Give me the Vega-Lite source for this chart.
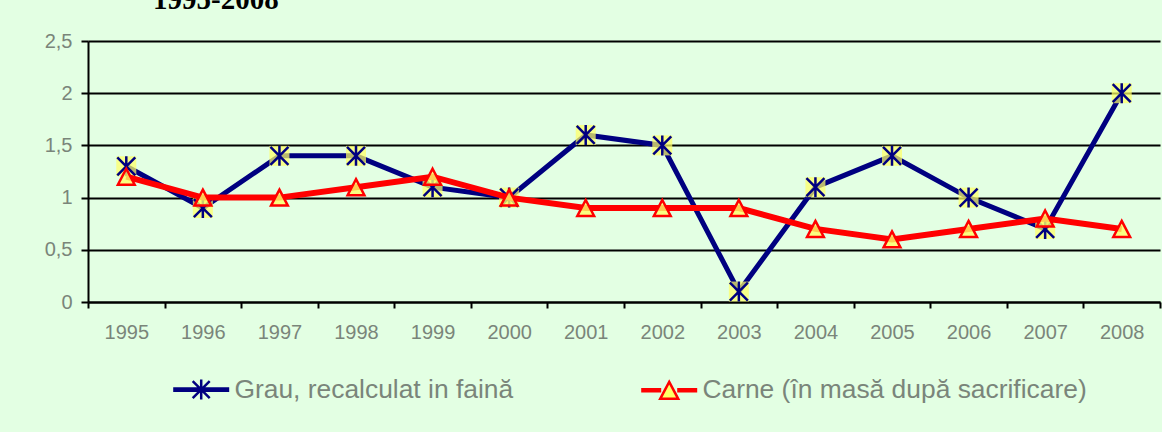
{
  "$schema": "https://vega.github.io/schema/vega-lite/v6.json",
  "autosize": {"type": "none"},
  "width": 1072,
  "height": 261,
  "padding": {"left": 88, "top": 41, "right": 2, "bottom": 130},
  "background": "#E3FFE3",
  "title": {
    "text": "1995-2008",
    "anchor": "start",
    "frame": "group",
    "dx": 65,
    "dy": 7,
    "offset": 0,
    "baseline": "alphabetic",
    "font": "Liberation Serif",
    "fontSize": 29,
    "fontWeight": "bold",
    "color": "#000000"
  },
  "data": {
    "values": [
      {"year": "1995", "series": "Grau, recalculat in faină", "value": 1.3},
      {"year": "1996", "series": "Grau, recalculat in faină", "value": 0.9},
      {"year": "1997", "series": "Grau, recalculat in faină", "value": 1.4},
      {"year": "1998", "series": "Grau, recalculat in faină", "value": 1.4},
      {"year": "1999", "series": "Grau, recalculat in faină", "value": 1.1},
      {"year": "2000", "series": "Grau, recalculat in faină", "value": 1.0},
      {"year": "2001", "series": "Grau, recalculat in faină", "value": 1.6},
      {"year": "2002", "series": "Grau, recalculat in faină", "value": 1.5},
      {"year": "2003", "series": "Grau, recalculat in faină", "value": 0.1},
      {"year": "2004", "series": "Grau, recalculat in faină", "value": 1.1},
      {"year": "2005", "series": "Grau, recalculat in faină", "value": 1.4},
      {"year": "2006", "series": "Grau, recalculat in faină", "value": 1.0},
      {"year": "2007", "series": "Grau, recalculat in faină", "value": 0.7},
      {"year": "2008", "series": "Grau, recalculat in faină", "value": 2.0},
      {"year": "1995", "series": "Carne (în masă după sacrificare)", "value": 1.2},
      {"year": "1996", "series": "Carne (în masă după sacrificare)", "value": 1.0},
      {"year": "1997", "series": "Carne (în masă după sacrificare)", "value": 1.0},
      {"year": "1998", "series": "Carne (în masă după sacrificare)", "value": 1.1},
      {"year": "1999", "series": "Carne (în masă după sacrificare)", "value": 1.2},
      {"year": "2000", "series": "Carne (în masă după sacrificare)", "value": 1.0},
      {"year": "2001", "series": "Carne (în masă după sacrificare)", "value": 0.9},
      {"year": "2002", "series": "Carne (în masă după sacrificare)", "value": 0.9},
      {"year": "2003", "series": "Carne (în masă după sacrificare)", "value": 0.9},
      {"year": "2004", "series": "Carne (în masă după sacrificare)", "value": 0.7},
      {"year": "2005", "series": "Carne (în masă după sacrificare)", "value": 0.6},
      {"year": "2006", "series": "Carne (în masă după sacrificare)", "value": 0.7},
      {"year": "2007", "series": "Carne (în masă după sacrificare)", "value": 0.8},
      {"year": "2008", "series": "Carne (în masă după sacrificare)", "value": 0.7}
    ]
  },
  "encoding": {
    "x": {
      "field": "year",
      "type": "ordinal",
      "scale": {"type": "band", "paddingInner": 0, "paddingOuter": 0},
      "axis": {
        "title": null,
        "labelAngle": 0,
        "tickBand": "extent",
        "grid": false,
        "domainColor": "#000000",
        "domainWidth": 2,
        "tickColor": "#000000",
        "tickWidth": 2,
        "tickSize": 6,
        "labelFont": "Liberation Sans",
        "labelFontSize": 20,
        "labelColor": "#7A857A",
        "labelPadding": 14
      }
    },
    "y": {
      "field": "value",
      "type": "quantitative",
      "scale": {"domain": [0, 2.5], "nice": false, "zero": true},
      "axis": {
        "title": null,
        "values": [0, 0.5, 1, 1.5, 2, 2.5],
        "labelExpr": "replace(toString(datum.value), '.', ',')",
        "grid": true,
        "gridColor": "#000000",
        "gridWidth": 2,
        "gridOpacity": 1,
        "domainColor": "#000000",
        "domainWidth": 2,
        "tickColor": "#000000",
        "tickWidth": 2,
        "tickSize": 7,
        "labelFont": "Liberation Sans",
        "labelFontSize": 20,
        "labelColor": "#7A857A",
        "labelPadding": 9
      }
    }
  },
  "layer": [
    {
      "transform": [{"filter": "datum.series === 'Grau, recalculat in faină'"}],
      "mark": {"type": "line", "strokeWidth": 5},
      "encoding": {
        "stroke": {
          "field": "series",
          "type": "nominal",
          "scale": {
            "domain": ["Grau, recalculat in faină", "Carne (în masă după sacrificare)"],
            "range": ["#000080", "#FF0000"]
          },
          "legend": {
            "title": null,
            "orient": "none",
            "direction": "horizontal",
            "legendX": 100,
            "legendY": 335,
            "padding": 0,
            "symbolSize": 400,
            "labelOffset": 20,
            "columnPadding": 122,
            "labelFont": "Liberation Sans",
            "labelFontSize": 26.4,
            "labelColor": "#7A857A",
            "labelLimit": 600,
            "encode": {
              "symbols": {
                "update": {
                  "shape": {"signal": "datum.value === 'Grau, recalculat in faină' ? 'M-2.8,-0.12H2.8M-2.8,0.12H2.8M-0.85,-0.85L0.85,0.85M-0.85,0.85L0.85,-0.85M0,-1V1' : 'M-2.8,-0.1H-0.8M0.8,-0.1H2.8M-2.8,0.1H-0.8M0.8,0.1H2.8M0,-0.85L0.9,0.85L-0.9,0.85Z'"},
                  "fill": {"signal": "datum.value === 'Grau, recalculat in faină' ? 'transparent' : '#FFFF66'"},
                  "stroke": {"signal": "datum.value === 'Grau, recalculat in faină' ? '#000080' : '#FF0000'"},
                  "strokeWidth": {"value": 2.5},
                  "opacity": {"value": 1}
                }
              }
            }
          }
        }
      }
    },
    {
      "transform": [{"filter": "datum.series === 'Grau, recalculat in faină'"}],
      "mark": {"type": "point", "shape": "square", "filled": true, "fill": "#FFFF66", "size": 400, "opacity": 0.72}
    },
    {
      "transform": [{"filter": "datum.series === 'Grau, recalculat in faină'"}],
      "mark": {"type": "point", "shape": "M-0.9,-0.9L0.9,0.9M-0.9,0.9L0.9,-0.9M0,-1V1", "filled": false, "stroke": "#000080", "strokeWidth": 2.5, "size": 400, "opacity": 1}
    },
    {
      "transform": [{"filter": "datum.series === 'Carne (în masă după sacrificare)'"}],
      "mark": {"type": "line", "strokeWidth": 6},
      "encoding": {
        "stroke": {"field": "series", "type": "nominal"}
      }
    },
    {
      "transform": [{"filter": "datum.series === 'Carne (în masă după sacrificare)'"}],
      "mark": {"type": "point", "shape": "M0,-1L1.05,1L-1.05,1Z", "filled": true, "fill": "#FFFF66", "fillOpacity": 0.8, "stroke": "#FF0000", "strokeWidth": 2.5, "size": 256, "opacity": 1}
    }
  ],
  "config": {
    "view": {"stroke": null},
    "font": "Liberation Sans"
  }
}
